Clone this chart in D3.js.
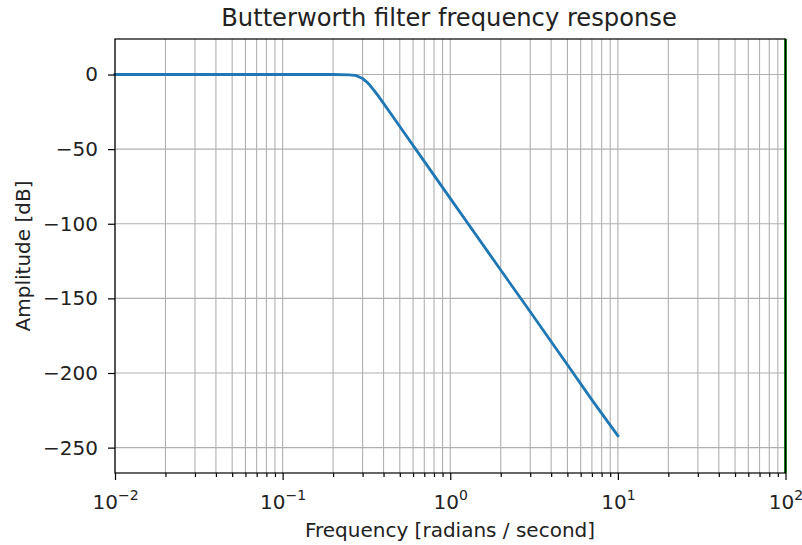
<!DOCTYPE html>
<html>
<head>
<meta charset="utf-8">
<script src="https://cdn.jsdelivr.net/npm/d3@7"></script>
<style>
  body { margin: 0; background: #fff; }
  svg { display: block; font-family: "DejaVu Sans", sans-serif; }
</style>
</head>
<body>
<svg id="chart" width="802" height="545"></svg>
<script>
// Frequency response of a low-pass Butterworth filter (magnitude in dB)
const frequency = [0.01, 0.03, 0.1, 0.2, 0.25, 0.27, 0.28, 0.3, 0.32, 0.33, 0.35, 0.37, 0.4, 0.45, 0.5, 0.7, 1, 2, 3, 5, 7, 10];
const amplitude = [0, 0, 0, 0, -0.2, -0.6, -1.1, -2.7, -5.3, -6.9, -10.4, -14.0, -19.3, -27.5, -34.8, -58.2, -83.0, -131.0, -159.0, -194.5, -218.0, -242.0];
const yTicks = [0, -50, -100, -150, -200, -250];
const xDecades = [-2, -1, 0, 1, 2];
const cutoff = [100];

const svg = d3.select("#chart");
const margin = { left: 115, right: 802 - 785.5, top: 39, bottom: 545 - 473 };
const W = 802, H = 545;
const tickFont = 20, labelFont = 20, titleFont = 24.2;

const x = d3.scaleLog().domain([1e-2, 1e2]).range([margin.left, W - margin.right]);
const y = d3.scaleLinear().domain([-267, 23.8]).range([H - margin.bottom, margin.top]);

// grid (major and minor on x, major on y)
const minorX = [];
for (let d = -2; d < 2; d++) for (let m = 2; m <= 9; m++) minorX.push(m * Math.pow(10, d));
const majorX = xDecades.map(d => Math.pow(10, d));

const grid = svg.append("g").attr("stroke", "#b0b0b0").attr("stroke-width", 1.1);
grid.selectAll("line.vx").data(majorX.concat(minorX)).join("line")
  .attr("x1", d => x(d)).attr("x2", d => x(d))
  .attr("y1", margin.top).attr("y2", H - margin.bottom);
grid.selectAll("line.hy").data(yTicks).join("line")
  .attr("x1", margin.left).attr("x2", W - margin.right)
  .attr("y1", d => y(d)).attr("y2", d => y(d));

// response curve
const line = d3.line().x((d, i) => x(frequency[i])).y(d => y(d));
svg.append("path").datum(amplitude)
  .attr("d", line).attr("fill", "none")
  .attr("stroke", "#1f77b4").attr("stroke-width", 2.8)
  .attr("stroke-linejoin", "round").attr("stroke-linecap", "square");

// cutoff marker
svg.selectAll("line.cut").data(cutoff).join("line")
  .attr("x1", d => x(d)).attr("x2", d => x(d))
  .attr("y1", margin.top).attr("y2", H - margin.bottom)
  .attr("stroke", "#008000").attr("stroke-width", 2.8);

// axes
const xAxis = d3.axisBottom(x).tickValues(majorX).tickSize(7).tickFormat("");
const xMinor = d3.axisBottom(x).tickValues(minorX).tickSize(4).tickFormat("");
const yAxis = d3.axisLeft(y).tickValues(yTicks).tickSize(7).tickPadding(10)
  .tickFormat(d => d < 0 ? "\u2212" + Math.abs(d) : d);

const gx = svg.append("g").attr("transform", `translate(0,${H - margin.bottom})`).call(xAxis);
svg.append("g").attr("transform", `translate(0,${H - margin.bottom})`).call(xMinor);
const gy = svg.append("g").attr("transform", `translate(${margin.left},0)`).call(yAxis);

svg.selectAll(".domain").remove();
svg.selectAll(".tick line").attr("stroke", "#000").attr("stroke-width", 1.2);
gy.selectAll(".tick text").attr("font-size", tickFont).attr("fill", "#222")
  .attr("font-family", "DejaVu Sans, sans-serif");

// x tick labels as powers of ten
gx.selectAll(".tick").each(function(d) {
  const t = d3.select(this).append("text")
    .attr("y", 36).attr("text-anchor", "middle").attr("fill", "#222")
    .attr("font-size", tickFont).attr("font-family", "DejaVu Sans, sans-serif");
  t.append("tspan").text("10");
  const e = Math.round(Math.log10(d));
  t.append("tspan").attr("dy", -9).attr("font-size", tickFont * 0.7)
    .text(e < 0 ? "\u2212" + Math.abs(e) : e);
});

// frame
svg.append("rect")
  .attr("x", margin.left).attr("y", margin.top)
  .attr("width", W - margin.right - margin.left).attr("height", H - margin.bottom - margin.top)
  .attr("fill", "none").attr("stroke", "#000").attr("stroke-width", 1.2);

// labels
svg.append("text").attr("x", 449).attr("y", 26)
  .attr("text-anchor", "middle").attr("font-size", titleFont).attr("fill", "#222")
  .text("Butterworth filter frequency response");
svg.append("text").attr("x", 450).attr("y", 537)
  .attr("text-anchor", "middle").attr("font-size", labelFont).attr("fill", "#222")
  .text("Frequency [radians / second]");
svg.append("text")
  .attr("transform", `translate(30,${(margin.top + H - margin.bottom) / 2}) rotate(-90)`)
  .attr("text-anchor", "middle").attr("font-size", labelFont).attr("fill", "#222")
  .text("Amplitude [dB]");
</script>
</body>
</html>
